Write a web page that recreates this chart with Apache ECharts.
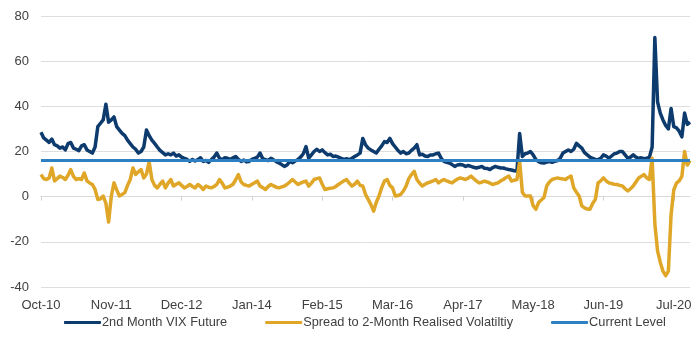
<!DOCTYPE html>
<html>
<head>
<meta charset="utf-8">
<script src="https://cdn.jsdelivr.net/npm/echarts@6/dist/echarts.min.js"></script>
<style>
html,body{margin:0;padding:0;background:#fff;}
#chart{width:700px;height:342px;}
</style>
</head>
<body>
<div id="chart"></div>
<script>
// Half-monthly observations from Oct-10 to Oct-20 (241 points)
const startYear = 2010, startMonth = 9; // October 2010
const monthNames = ['Jan','Feb','Mar','Apr','May','Jun','Jul','Aug','Sep','Oct','Nov','Dec'];

const vixFuture = [
  28.5, 26, 25, 24, 25.5, 23, 22.5, 21.5, 22, 20.7,
  23.5, 24, 21.5, 21, 20.4, 22.5, 23, 20.7, 20, 19.3,
  22, 31, 32.5, 34, 40.9, 33, 34, 35.3, 31, 29.5,
  28, 27, 25, 23.5, 22, 21, 19.3, 20, 22, 29.5,
  27, 25, 23.6, 22, 20.5, 19.5, 18.5, 19, 18.5, 19.3,
  18, 18.5, 17.5, 17, 16.5, 15.6, 16.5, 15.8, 16.4, 17.2,
  15.6, 16, 15.2, 16.4, 17.5, 19.3, 17, 16.4, 17.2, 17,
  16.5, 17.2, 17.8, 16.5, 15.6, 16.2, 15.4, 15.6, 16.5, 17,
  17.5, 19.3, 16.8, 16.4, 16, 17, 16.3, 15.5, 14.9, 14.2,
  13.4, 14, 15.6, 15, 15.8, 16.4, 17.5, 19, 22.2, 17,
  18.5, 20, 21, 20, 20.7, 19.5, 18.5, 18.8, 17.8, 18,
  17.5, 17, 16.5, 16.8, 16.4, 17, 17.8, 18.5, 19.3, 25.8,
  23, 21.5, 20.7, 20, 19.3, 21, 22.5, 24.4, 24, 25.8,
  23.5, 22, 20.5, 19.3, 20, 19, 19.3, 20.5, 21.5, 23,
  18.5, 18.8, 18, 17.8, 18.5, 18.5, 19, 19.3, 17, 15.6,
  15.2, 14.9, 14.2, 13.4, 14, 14.2, 14, 13.4, 13.8, 13.4,
  13, 12.7, 13, 13.4, 12.6, 12.5, 12, 12.8, 13.4, 13,
  12.7, 12.7, 12.3, 12, 11.8, 11.5, 11.3, 28, 17.8, 19,
  19.3, 20, 18.5, 16.4, 15.5, 15, 14.9, 15.3, 15.6, 15.2,
  15.6, 16, 17, 19.3, 20, 20.7, 20, 21, 23.6, 22.5,
  21.5, 19.5, 18.5, 17.5, 17, 16.5, 16.4, 17, 18.5, 18,
  17, 18, 19, 19.3, 20, 20, 18.5, 17, 17.5, 18.5,
  17.5, 17, 17.2, 16.8, 17, 17.5, 22, 70.5, 42, 37,
  34, 31.5, 30, 39, 31, 30.5, 29, 26.5, 37, 32, 33
];

const spreadRealised = [
  9.8, 8, 7.6, 8.3, 12.7, 7, 8, 9.1, 8.5, 7.6,
  9.5, 12, 9, 7.6, 8, 7.6, 10.5, 7, 6.1, 5.4,
  3.2, -1.2, -1, 0.3, -3, -11.2, 0.3, 6.1, 3, 0.3,
  1, 1.8, 5, 7.6, 12.7, 9.8, 11, 12, 8.3, 10,
  15.5, 7.6, 5, 3.9, 5.5, 6.9, 3.9, 6, 7.6, 4.7,
  5.5, 6.1, 5, 3.9, 4.5, 5.4, 4.5, 3.9, 5.4, 4.5,
  3.2, 4.7, 4.2, 3.9, 4.5, 5.4, 7.6, 6, 3.9, 4.2,
  4.7, 5.5, 7.5, 9.8, 6.5, 5.4, 5, 4.7, 5.5, 6.2,
  6.9, 4.7, 4, 3.2, 4.5, 5.4, 4.8, 4.2, 3.9, 4.3,
  4.7, 5.5, 6.5, 7.6, 6.5, 5.4, 6, 6.5, 6.9, 4.7,
  6, 7.6, 8, 8.3, 5.5, 3.2, 3.5, 3.7, 3.9, 4.5,
  5.4, 6.2, 7, 7.6, 6, 4.7, 5.5, 6.9, 5, 4.7,
  1, -1.2, -3.5, -6.4, -2.5, 0.3, 4, 6.9, 7.6, 5,
  3.9, 0.3, 0.5, 1, 2.5, 4.7, 8, 9.8, 11.2, 7.6,
  6, 4.7, 5.5, 6.1, 6.5, 7, 7.6, 6.1, 7, 7.6,
  7, 6.5, 6.1, 7, 7.8, 8.3, 8, 7.6, 8.2, 9.1,
  8, 7, 6.1, 6.4, 6.9, 6.5, 6, 5.4, 5.8, 6.1,
  7, 7.6, 8.5, 9.1, 6.9, 7.3, 7.6, 15.6, 2, 0.3,
  0.3, 0.3, -4, -5.6, -2.6, -1.5, -0.4, 4.7, 6.5, 7.6,
  8, 8.3, 8, 7.8, 7.6, 8.5, 9.1, 3.9, 2, 0.3,
  -4.1, -5, -5.5, -5.6, -3, -1.2, 6.1, 7, 8.3, 7,
  6.1, 5.8, 5.5, 5.4, 5, 4.7, 3.5, 2.5, 3.5, 4.7,
  6.5, 8.3, 9, 9.8, 8.3, 7.6, 17, -12, -24, -29,
  -33, -35, -33, -8, 3, 6, 7, 9, 20, 14, 16
];

const currentLevel = 16;

const yTicks = { min: -40, max: 80, step: 20 };

const categories = [];
for (let i = 0; i < vixFuture.length; i++) {
  const m = startMonth + Math.floor(i / 2);
  const y = startYear + Math.floor(m / 12);
  categories.push(monthNames[m % 12] + '-' + String(y % 100).padStart(2, '0'));
}

const FONT = '"Liberation Sans", Arial, Helvetica, sans-serif';
const NAVY = '#0d3b6e', GOLD = '#dfa628', LIGHT = '#2f80c3';
const chart = echarts.init(document.getElementById('chart'), null, { renderer: 'canvas' });
chart.setOption({
  animation: false,
  backgroundColor: '#ffffff',
  grid: { left: 41, right: 10, top: 16, bottom: 55, containLabel: false },
  legend: {
    bottom: 8,
    left: 59,
    icon: 'roundRect',
    itemWidth: 37,
    itemHeight: 3,
    itemGap: 38,
    textStyle: { fontFamily: FONT, fontSize: 12.8, color: '#404040', padding: [0, 0, 0, -4] },
    data: ['2nd Month VIX Future', 'Spread to 2-Month Realised Volatiltiy', 'Current Level']
  },
  xAxis: [
    {
      type: 'category',
      data: categories,
      boundaryGap: false,
      position: 'bottom',
      axisLine: { show: false, onZero: false },
      axisTick: { show: false },
      axisLabel: { interval: 25, color: '#404040', fontFamily: FONT, fontSize: 13, margin: 12 },
      splitLine: { show: false }
    },
    {
      type: 'category',
      data: categories,
      boundaryGap: false,
      position: 'bottom',
      axisLine: { show: true, onZero: true, lineStyle: { color: '#d9d9d9', width: 1 } },
      axisTick: { show: true, interval: 25, length: 4, lineStyle: { color: '#d0d0d0' } },
      axisLabel: { show: false },
      splitLine: { show: false }
    }
  ],
  yAxis: {
    type: 'value',
    min: yTicks.min,
    max: yTicks.max,
    interval: yTicks.step,
    axisLine: { show: false },
    axisTick: { show: false },
    axisLabel: { color: '#404040', fontFamily: FONT, fontSize: 13, margin: 12 },
    splitLine: { lineStyle: { color: '#dedede', width: 1 } }
  },
  series: [
    {
      name: '2nd Month VIX Future',
      type: 'line',
      xAxisIndex: 0,
      data: vixFuture,
      symbol: 'none',
      lineStyle: { color: NAVY, width: 3.5, join: 'round' },
      itemStyle: { color: NAVY },
      z: 2
    },
    {
      name: 'Spread to 2-Month Realised Volatiltiy',
      type: 'line',
      xAxisIndex: 0,
      data: spreadRealised,
      symbol: 'none',
      lineStyle: { color: GOLD, width: 3.5, join: 'round' },
      itemStyle: { color: GOLD },
      z: 3
    },
    {
      name: 'Current Level',
      type: 'line',
      xAxisIndex: 0,
      data: [],
      symbol: 'none',
      lineStyle: { color: LIGHT, width: 3 },
      itemStyle: { color: LIGHT },
      z: 4,
      markLine: {
        silent: true,
        symbol: ['none', 'none'],
        label: { show: false },
        lineStyle: { color: LIGHT, width: 3, type: 'solid' },
        data: [{ yAxis: currentLevel }]
      }
    }
  ]
});
</script>
</body>
</html>
